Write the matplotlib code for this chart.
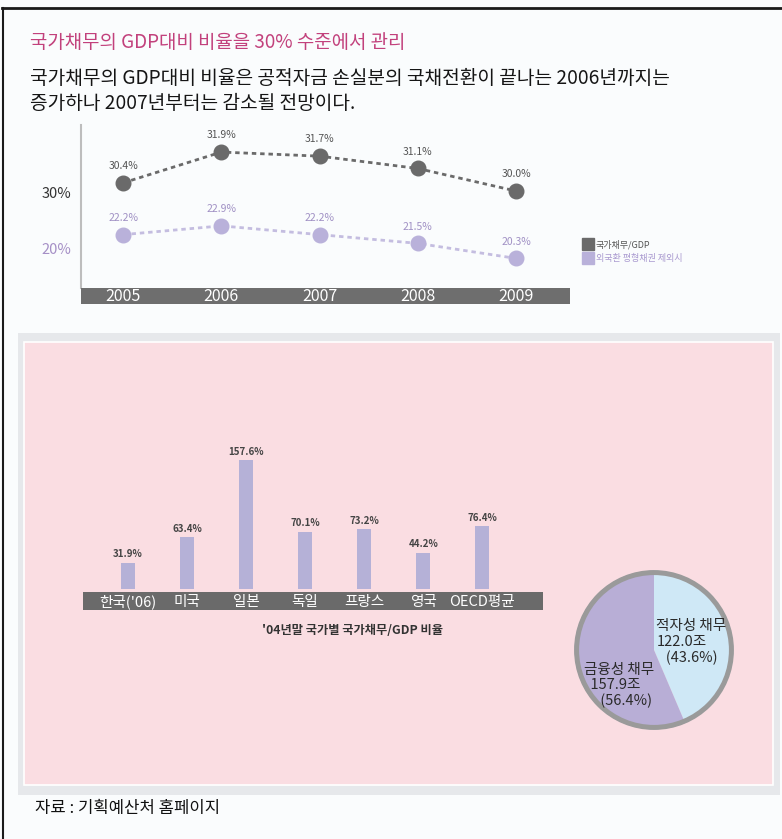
import matplotlib
matplotlib.use("Agg")
import matplotlib.pyplot as plt
from matplotlib.patches import Rectangle, Circle
from matplotlib.lines import Line2D

plt.rcParams['font.family'] = ['Noto Sans CJK KR', 'DejaVu Sans']

# ---------------- data ----------------
years = ['2005', '2006', '2007', '2008', '2009']
debt_ratio = [30.4, 31.9, 31.7, 31.1, 30.0]
debt_ratio_ex = [22.2, 22.9, 22.2, 21.5, 20.3]
line_legend = ['국가채무/GDP', '외국환 평형채권 제외시']

countries = ["한국('06)", '미국', '일본', '독일', '프랑스', '영국', 'OECD평균']
country_ratio = [31.9, 63.4, 157.6, 70.1, 73.2, 44.2, 76.4]

pie_labels = ['적자성 채무', '금융성 채무']
pie_values = [122.0, 157.9]
pie_shares = [43.6, 56.4]

title = '국가채무의 GDP대비 비율을 30% 수준에서 관리'
subtitle = ('국가채무의 GDP대비 비율은 공적자금 손실분의 국채전환이 끝나는 2006년까지는\n'
            '증가하나 2007년부터는 감소될 전망이다.')
bar_caption = "'04년말 국가별 국가채무/GDP 비율"
source = '자료 : 기획예산처 홈페이지'

# ---------------- layout helpers ----------------
W, H = 782, 839
fig = plt.figure(figsize=(W / 100, H / 100), dpi=100, facecolor='#fafcfd')


def fx(x):
    return x / W


def fy(y):
    return 1 - y / H


def px_axes(x0, y0, x1, y1, **kw):
    return fig.add_axes([x0 / W, 1 - y1 / H, (x1 - x0) / W, (y1 - y0) / H], **kw)


# outer frame lines
fig.add_artist(Line2D([fx(2), fx(782)], [fy(8), fy(8)], color='#1a1a1a', lw=2))
fig.add_artist(Line2D([fx(3), fx(3)], [fy(8), fy(839)], color='#1a1a1a', lw=1.5))

# texts
fig.text(fx(30), fy(43), title, color='#c2417c', fontsize=13.6, va='center', ha='left')
fig.text(fx(30), fy(91), subtitle, color='#151515', fontsize=13.8, va='center', ha='left',
         linespacing=1.25)
fig.text(fx(35), fy(808), source, color='#111111', fontsize=12, va='center', ha='left')

# ---------------- line chart ----------------
DARK = '#6a6a6a'
LIGHT = '#b9b1da'
x = list(range(len(years)))

ax1 = px_axes(81, 125, 570, 288)
ax1.set_facecolor('none')
ax2 = ax1.twinx()
for a in (ax1, ax2):
    for s in a.spines.values():
        s.set_visible(False)
    a.set_xlim(-0.43, 4.55)
    a.tick_params(left=False, right=False, bottom=False, labelbottom=False,
                  labelleft=False, labelright=False)
ax1.spines['left'].set_visible(True)
ax1.spines['left'].set_color('#bdbdbd')
ax1.spines['left'].set_linewidth(1.5)

ax1.set_ylim(25.27, 33.22)
ax2.set_ylim(17.93, 30.97)

ax1.plot(x, debt_ratio, color=DARK, lw=2, ls=(0, (1.6, 1.4)), marker='o', ms=10.5,
         markeredgecolor=DARK, zorder=3)
ax2.plot(x, debt_ratio_ex, color='#c4bde0', lw=2, ls=(0, (1.6, 1.4)), marker='o', ms=10.5,
         markerfacecolor=LIGHT, markeredgecolor=LIGHT, zorder=3)
for xi, v in zip(x, debt_ratio):
    ax1.annotate(f'{v:.1f}%', (xi, v), xytext=(0, 12), textcoords='offset points',
                 ha='center', va='center', fontsize=7.5, color='#555555')
for xi, v in zip(x, debt_ratio_ex):
    ax2.annotate(f'{v:.1f}%', (xi, v), xytext=(0, 12), textcoords='offset points',
                 ha='center', va='center', fontsize=7.5, color='#a090c4')

fig.text(fx(56), fy(194), '30%', fontsize=10.5, color='#333333', ha='center', va='center')
fig.text(fx(56), fy(250), '20%', fontsize=10.5, color='#a58fc6', ha='center', va='center')

# year band
axy = px_axes(81, 288, 570, 304, sharex=ax1)
axy.set_facecolor('#6e6e6e')
for s in axy.spines.values():
    s.set_visible(False)
axy.set_ylim(0, 1)
axy.tick_params(left=False, bottom=False, labelbottom=False, labelleft=False)
for xi, yr in zip(x, years):
    axy.text(xi, 0.45, yr, color='white', fontsize=11.5, ha='center', va='center')

# legend
handles = [Line2D([], [], ls='none', marker='s', ms=8, color=DARK),
           Line2D([], [], ls='none', marker='s', ms=8, color=LIGHT)]
fig.legend(handles, line_legend, loc='upper left', bbox_to_anchor=(fx(576), fy(232)),
           frameon=False, fontsize=6.5, handlelength=0.8, handletextpad=0.5,
           labelspacing=0.5, labelcolor=['#555555', '#a898cf'])

# ---------------- pink panel ----------------
fig.add_artist(Rectangle((fx(18), fy(795)), (780 - 18) / W, (795 - 333) / H,
                         transform=fig.transFigure, facecolor='#e6e8eb',
                         edgecolor='none', zorder=0))
fig.add_artist(Rectangle((fx(24), fy(785)), (773 - 24) / W, (785 - 342) / H,
                         transform=fig.transFigure, facecolor='#fadde2',
                         edgecolor='white', lw=1.2, zorder=0))

# ---------------- bar chart ----------------
BAR = '#b5b1d7'
axb = px_axes(83, 440, 543, 589)
axb.set_facecolor('none')
for s in axb.spines.values():
    s.set_visible(False)
xb = list(range(len(countries)))
axb.bar(xb, country_ratio, width=0.24, color=BAR)
axb.set_xlim(-0.763, 7.03)
axb.set_ylim(0, 182)
axb.tick_params(left=False, bottom=False, labelbottom=False, labelleft=False)
for xi, v in zip(xb, country_ratio):
    axb.annotate(f'{v:.1f}%', (xi, v), xytext=(0, 2.5), textcoords='offset points',
                 ha='center', va='bottom', fontsize=7, color='#444444',
                 fontweight='bold')

axc = px_axes(83, 592, 543, 610, sharex=axb)
axc.set_facecolor('#6a6a6a')
for s in axc.spines.values():
    s.set_visible(False)
axc.set_ylim(0, 1)
axc.tick_params(left=False, bottom=False, labelbottom=False, labelleft=False)
for xi, c in zip(xb, countries):
    axc.text(xi, 0.45, c, color='white', fontsize=10.5, ha='center', va='center')

fig.text(fx(352), fy(631), bar_caption, fontsize=8.8, color='#333333',
         ha='center', va='center', fontweight='bold')

# ---------------- pie ----------------
axp = px_axes(573, 569, 735, 731)
axp.pie(pie_values, colors=['#cfe8f6', '#b8aed6'], startangle=90,
        counterclock=False, radius=1.0)
axp.add_patch(Circle((0, 0), 0.975, fill=False, edgecolor='#9a9a9a', lw=3.6))
axp.set_xlim(-1.02, 1.02)
axp.set_ylim(-1.02, 1.02)
axp.set_aspect('equal')
axp.axis('off')

txt_blue = f'{pie_labels[0]}\n{pie_values[0]:.1f}조\n   ({pie_shares[0]:.1f}%)'
txt_lav = f'{pie_labels[1]}\n  {pie_values[1]:.1f}조\n     ({pie_shares[1]:.1f}%)'
axp.text(0.03, 0.10, txt_blue, fontsize=10.5, color='#2a2a2a', ha='left', va='center',
         linespacing=1.2)
axp.text(-0.88, -0.45, txt_lav, fontsize=10.5, color='#2a2a2a', ha='left', va='center',
         linespacing=1.1)

fig.savefig('out.png', dpi=100, facecolor=fig.get_facecolor())
